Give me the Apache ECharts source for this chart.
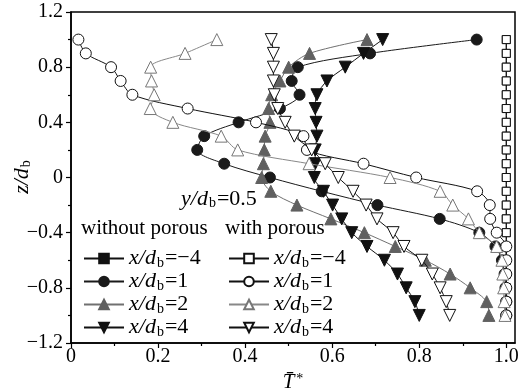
<!DOCTYPE html>
<html>
<head>
<meta charset="utf-8">
<script src="https://cdn.jsdelivr.net/npm/echarts@6/dist/echarts.min.js"></script>
<style>
  html, body { margin: 0; padding: 0; background: #fff; }
  #chart { width: 521px; height: 392px; }
</style>
</head>
<body>
<div id="chart"></div>
<script>
// z/d_b levels, top to bottom
var zLevels = [1.0, 0.9, 0.8, 0.7, 0.6, 0.5, 0.4, 0.3, 0.2, 0.1, 0.0,
               -0.1, -0.2, -0.3, -0.4, -0.5, -0.6, -0.7, -0.8, -0.9, -1.0];

// without porous
var woXm4 = [1, 1, 1, 1, 1, 1, 1, 1, 1, 1, 1, 1, 1, 1, 1, 1, 1, 1, 1, 1, 1];
var woX1 = [0.932, 0.687, 0.521, 0.507, 0.525, 0.48, 0.385, 0.306, 0.29, 0.352, 0.457,
            0.576, 0.704, 0.847, 0.938, 0.975, 0.99, 0.996, 0.998, 1.0, 1.0];
var woX2 = [0.68, 0.548, 0.50, 0.48, 0.461, 0.454, 0.457, 0.446, 0.444, 0.442, 0.438,
            0.459, 0.519, 0.597, 0.674, 0.745, 0.814, 0.871, 0.917, 0.955, 0.96];
var woX4 = [0.716, 0.672, 0.63, 0.588, 0.565, 0.561, 0.563, 0.565, 0.561, 0.561, 0.559,
            0.58, 0.601, 0.622, 0.645, 0.68, 0.72, 0.75, 0.77, 0.79, 0.80];

// with porous
var wXm4 = [1, 1, 1, 1, 1, 1, 1, 1, 1, 1, 1, 1, 1, 1, 1, 1, 1, 1, 1, 1, 1];
var wX1 = [0.017, 0.034, 0.092, 0.114, 0.141, 0.268, 0.425, 0.534, 0.542, 0.672, 0.793,
           0.933, 0.962, 0.963, 0.978, 1.0, 1.0, 1.0, 1.0, 1.0, 1.0];
var wX2 = [0.335, 0.262, 0.183, 0.185, 0.191, 0.182, 0.234, 0.345, 0.383, 0.547, 0.733,
           0.848, 0.877, 0.913, 0.938, 0.978, 0.99, 0.992, 0.994, 0.995, 0.997];
var wX4 = [0.46, 0.465, 0.465, 0.465, 0.467, 0.475, 0.492, 0.513, 0.553, 0.584, 0.614,
           0.648, 0.678, 0.703, 0.74, 0.765, 0.806, 0.83, 0.848, 0.862, 0.87];

var xMajor = [0, 0.2, 0.4, 0.6, 0.8, 1.0];
var xMinor = [0.1, 0.3, 0.5, 0.7, 0.9];
var xPos = ['=−4', '=1', '=2', '=4'];

var FONT = 'Liberation Serif';

function pairs(xs) {
  return xs.map(function (x, i) { return [x, zLevels[i]]; });
}
function fmtNum(v) {
  if (Math.abs(v) < 1e-9) return '0';
  var s = Math.abs(v).toFixed(1);
  return v < 0 ? '−' + s : s;
}

var names = ['wo-4', 'wo1', 'wo2', 'wo4', 'w-4', 'w1', 'w2', 'w4'];
var labelOf = {};
names.forEach(function (n, i) { labelOf[n] = xPos[i % 4]; });

function mk(name, xs, symbol, size, fill, stroke, lineColor, rotate, z) {
  return {
    name: name,
    type: 'line',
    data: pairs(xs),
    smooth: 0.3,
    symbol: symbol,
    symbolSize: size,
    symbolRotate: rotate || 0,
    z: z,
    itemStyle: { color: fill, borderColor: stroke, borderWidth: 1 },
    lineStyle: { color: lineColor, width: 1 },
    emphasis: { disabled: true }
  };
}

var series = [
  mk('wo-4', woXm4, 'rect', 8, '#111', '#111', '#111', 0, 2),
  mk('wo1', woX1, 'circle', 11, '#1a1a1a', '#1a1a1a', '#1a1a1a', 0, 3),
  mk('wo2', woX2, 'triangle', 12, '#606060', '#606060', '#707070', 0, 3),
  mk('wo4', woX4, 'triangle', 12, '#111', '#111', '#111', 180, 3),
  mk('w-4', wXm4, 'rect', 8, '#fff', '#111', '#111', 0, 4),
  mk('w1', wX1, 'circle', 11, '#fff', '#111', '#111', 0, 5),
  mk('w2', wX2, 'triangle', 12, '#fff', '#777', '#888', 0, 6),
  mk('w4', wX4, 'triangle', 12, '#fff', '#111', '#111', 180, 7)
];

var richSub = {
  i: { fontFamily: FONT, fontStyle: 'italic', fontWeight: 'normal', fontSize: 22, lineHeight: 22, color: '#000' },
  s: { fontFamily: FONT, fontWeight: 'normal', fontSize: 14, lineHeight: 22, color: '#000', padding: [9, 1, 0, 1] },
  n: { fontFamily: FONT, fontWeight: 'normal', fontSize: 22, lineHeight: 22, color: '#000' }
};
var legendText = { fontFamily: FONT, fontSize: 22, color: '#000', rich: richSub };
function legendFmt(name) {
  return '{i|x/d}{s|b}{n|' + labelOf[name] + '}';
}

var chart = echarts.init(document.getElementById('chart'));
chart.setOption({
  animation: false,
  backgroundColor: '#fff',
  grid: {
    left: 71, right: 6, top: 12, bottom: 49, outerBoundsMode: 'none', containLabel: false,
    show: true, borderColor: '#000', borderWidth: 1.5
  },
  title: [
    { text: 'without porous', left: 81, top: 218, padding: 0, textStyle: { fontFamily: FONT, fontSize: 21, fontWeight: 'normal', color: '#000' } },
    { text: 'with porous', left: 225, top: 218, padding: 0, textStyle: { fontFamily: FONT, fontSize: 21, fontWeight: 'normal', color: '#000' } },
    {
      text: '{i|y/d}{s|b}{n|=0.5}', left: 181, top: 188, padding: 0,
      textStyle: { fontWeight: 'normal', rich: richSub }
    }
  ],
  graphic: [{
    type: 'text', x: 22, y: 177, rotation: Math.PI / 2,
    style: {
      text: '{i|z/d}{s|b}', align: 'center', verticalAlign: 'middle',
      rich: {
        i: { fontFamily: FONT, fontStyle: 'italic', fontSize: 22, fill: '#000' },
        s: { fontFamily: FONT, fontSize: 14, fill: '#000', padding: [9, 0, 0, 1] }
      }
    }
  }],
  legend: [
    {
      data: ['wo-4', 'wo1', 'wo2', 'wo4'], orient: 'vertical', left: 83, top: 247, padding: 0,
      itemWidth: 40, itemHeight: 12, itemGap: 0, formatter: legendFmt, textStyle: legendText,
      selectedMode: false
    },
    {
      data: ['w-4', 'w1', 'w2', 'w4'], orient: 'vertical', left: 228, top: 247, padding: 0,
      itemWidth: 40, itemHeight: 12, itemGap: 0, formatter: legendFmt, textStyle: legendText,
      selectedMode: false
    }
  ],
  xAxis: [
    {
      type: 'value', min: 0, max: 1.02,
      name: '{t|T̄}{s|*}', nameLocation: 'middle', nameGap: 24,
      nameTextStyle: {
        rich: {
          t: { fontFamily: FONT, fontStyle: 'italic', fontSize: 21, color: '#000' },
          s: { fontFamily: FONT, fontSize: 14, color: '#000', padding: [0, 0, 8, 2] }
        }
      },
      axisLine: { onZero: false, lineStyle: { color: '#000', width: 1.5 } },
      axisTick: { show: true, inside: false, length: 5, customValues: xMajor, lineStyle: { color: '#000', width: 1.2 } },
      axisLabel: { customValues: xMajor, formatter: fmtNum, fontFamily: FONT, fontSize: 20, color: '#000', margin: 4 },
      splitLine: { show: false }
    },
    {
      type: 'value', min: 0, max: 1.02, position: 'bottom', gridIndex: 0,
      axisLine: { show: false, onZero: false },
      axisTick: { show: true, inside: false, length: 3, customValues: xMinor, lineStyle: { color: '#000', width: 1.2 } },
      axisLabel: { show: false },
      splitLine: { show: false }
    }
  ],
  yAxis: {
    type: 'value', min: -1.2, max: 1.2, interval: 0.4,
    axisLine: { onZero: false, lineStyle: { color: '#000', width: 1.5 } },
    axisTick: { show: true, inside: false, length: 5, lineStyle: { color: '#000', width: 1.2 } },
    minorTick: { show: true, splitNumber: 2, length: 3, lineStyle: { color: '#000', width: 1.2 } },
    axisLabel: { formatter: fmtNum, fontFamily: FONT, fontSize: 20, color: '#000', margin: 8 },
    splitLine: { show: false }
  },
  series: series
});
</script>
</body>
</html>
